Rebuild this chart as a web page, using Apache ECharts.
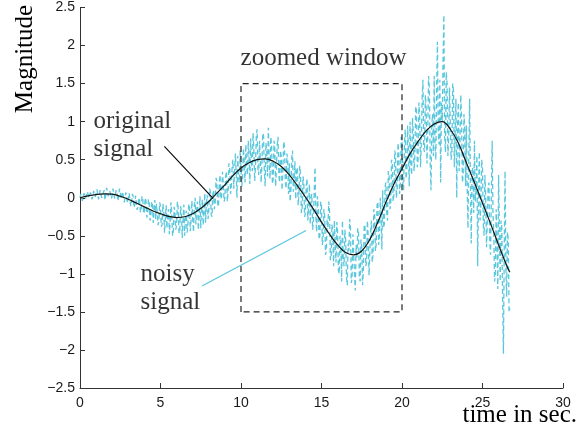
<!DOCTYPE html>
<html>
<head>
<meta charset="utf-8">
<script src="https://cdn.jsdelivr.net/npm/echarts@6/dist/echarts.min.js"></script>
<style>
html,body{margin:0;padding:0;background:#fff;}
#chart{width:587px;height:436px;}
</style>
</head>
<body>
<div id="chart"></div>
<script>
// ---- data ----
const xTicks = { min: 0, max: 30, interval: 5 };
const yTicks = { min: -2.5, max: 2.5, interval: 0.5 };

const origTime = [0,0.5,1,1.5,2,2.5,3,3.5,4,4.5,5,5.5,6,6.5,7,7.5,8,8.5,9,9.5,10,10.5,11,11.5,12,12.5,13,13.5,14,14.5,15,15.5,16,16.5,17,17.5,18,18.5,19,19.5,20,20.5,21,21.5,22,22.5,23,23.5,24,24.5,25,25.5,26,26.5,26.7];
const origValue = [0,0.025,0.042,0.05,0.047,0.02,-0.02,-0.07,-0.12,-0.17,-0.21,-0.245,-0.26,-0.25,-0.21,-0.14,-0.05,0.06,0.17,0.29,0.39,0.46,0.5,0.51,0.48,0.41,0.3,0.16,0.01,-0.15,-0.32,-0.48,-0.62,-0.72,-0.75,-0.7,-0.55,-0.32,-0.06,0.18,0.38,0.58,0.74,0.88,0.97,1.0,0.9,0.72,0.46,0.2,-0.07,-0.34,-0.62,-0.89,-0.98];

const noisyStep = 0.05; // seconds between noisy samples, starting at t = 0
const noisyValue = [
 0.00, 0.05, 0.03,-0.04,-0.02, 0.06, 0.04,-0.01, 0.01, 0.08, 0.05, 0.00,-0.01, 0.07, 0.06,-0.02, 0.02, 0.09, 0.07, 0.01,
 0.01, 0.11, 0.09,-0.02, 0.03, 0.10, 0.08, 0.00,-0.01, 0.07, 0.10,-0.03, 0.04, 0.13, 0.12, 0.02, 0.00, 0.09, 0.08,-0.01,
 0.03, 0.12, 0.11,-0.01,-0.02, 0.10, 0.07,-0.04, 0.01, 0.12, 0.09,-0.02,-0.03, 0.08, 0.06,-0.06,-0.04, 0.07, 0.05,-0.07,
-0.06, 0.06, 0.04,-0.11,-0.08, 0.05, 0.02,-0.13,-0.10, 0.03, 0.01,-0.16,-0.12, 0.00,-0.03,-0.19,-0.15, 0.02,-0.02,-0.21,
-0.18, 0.00,-0.04,-0.26,-0.20,-0.02,-0.07,-0.30,-0.24,-0.05,-0.09,-0.33,-0.13,-0.03,-0.28,-0.08,-0.10,-0.36,-0.30,-0.06,
-0.12,-0.38,-0.35,-0.08,-0.18,-0.46,-0.27,-0.10,-0.40,-0.20,-0.15,-0.48,-0.32,-0.06,-0.22,-0.50,-0.44,-0.12,-0.19,-0.42,
-0.36,-0.05,-0.14,-0.47,-0.42,-0.11,-0.20,-0.53,-0.31,-0.09,-0.50,-0.25,-0.17,-0.46,-0.38,-0.08,-0.12,-0.44,-0.30,-0.04,
-0.28,-0.45,-0.10, 0.00,-0.35,-0.12,-0.05,-0.42,-0.24, 0.02,-0.40,-0.15,-0.02,-0.36,-0.20, 0.06,-0.33,-0.08, 0.04,-0.28,
-0.18, 0.12, 0.08,-0.22,-0.25, 0.05, 0.10,-0.15,-0.06, 0.26, 0.22,-0.08,-0.12, 0.18, 0.30,-0.02, 0.02, 0.34, 0.18,-0.05,
 0.00, 0.28, 0.35,-0.05, 0.08, 0.45, 0.40, 0.05, 0.15, 0.42, 0.50, 0.12, 0.10, 0.58, 0.32, 0.00, 0.55, 0.25, 0.20, 0.62,
 0.60, 0.15, 0.25, 0.65, 0.48, 0.20, 0.70, 0.40, 0.30, 0.75, 0.56, 0.18, 0.78, 0.45, 0.35, 0.85, 0.62, 0.22, 0.42, 0.80,
 0.90, 0.38, 0.30, 0.75, 0.50, 0.20, 0.45, 0.85, 0.82, 0.35, 0.15, 0.72, 0.60, 0.28, 0.92, 0.48, 0.25, 0.80, 0.70, 0.18,
 0.25, 0.75, 0.66, 0.15, 0.40, 0.70, 0.80, 0.30, 0.20, 0.62, 0.55, 0.10, 0.35, 0.74, 0.68, 0.22, 0.12, 0.58, 0.50, 0.05,
 0.45,-0.05, 0.10, 0.52, 0.62, 0.08, 0.20, 0.48,-0.02, 0.35, 0.40,-0.10, 0.05, 0.42, 0.30,-0.20,-0.15, 0.28, 0.20,-0.25,
-0.20, 0.15, 0.25,-0.30,-0.12, 0.18,-0.35, 0.00, 0.05,-0.42,-0.30, 0.10, 0.40,-0.25,-0.45, 0.02,-0.15,-0.55,-0.50,-0.05,
-0.10,-0.62,-0.55,-0.15,-0.25,-0.75,-0.70,-0.28,-0.40,-0.05,-0.18,-0.82,-0.78,-0.35,-0.45,-0.90,-0.30,-0.60,-0.85,-0.32,
-0.45,-0.95,-1.00,-0.50,-0.60,-1.10,-0.30,-0.80,-0.90,-0.42,-0.55,-1.05,-1.15,-0.60,-0.70,-0.28,-0.40,-1.12,-1.05,-0.48,
-0.50,-1.00,-1.22,-0.62,-0.80,-0.40,-0.45,-1.05,-1.10,-0.55,-0.65,-1.15,-0.95,-0.38,-0.35,-0.90,-0.85,-0.30,-0.50,-1.02,
-1.00,-0.45,-0.30,-0.85,-0.75,-0.15,-0.20,-0.70,-0.60,-0.10,-0.05,-0.62,-0.50, 0.00,-0.25,-0.68, 0.10,-0.40,-0.35, 0.15,
 0.20,-0.20,-0.30, 0.35, 0.30,-0.15,-0.10, 0.50, 0.45,-0.05, 0.05, 0.62, 0.55, 0.00, 0.10, 0.72, 0.60, 0.05, 0.20, 0.80,
 0.75, 0.20, 0.10, 0.70, 0.90, 0.25, 0.35, 0.95, 0.60, 0.15, 1.00, 0.45, 0.30, 1.05, 0.85, 0.35, 0.55, 1.20, 1.15, 0.40,
 0.50, 1.25, 1.05, 0.40, 0.70, 1.30, 1.55, 0.65, 0.60, 1.35, 1.20, 0.45, 0.85, 1.60, 1.45, 0.50, 0.10, 0.95, 1.10, 0.55,
 1.60, 0.70, 0.50, 1.40, 2.05, 0.90, 0.70, 1.55, 0.20, 1.25, 1.00, 1.80, 2.40, 0.80, 0.60, 1.65, 1.50, 0.55, 0.80, 1.45,
 1.45, 0.50, 0.60, 1.50, 1.40, 0.40, 0.85, 1.30, 0.00, 0.95, 1.25, 0.35, 0.70, 1.35, 1.05, 0.20, 0.30, 1.10, 0.90, 0.15,
 0.95, 0.10,-0.40, 0.60, 1.30, 0.20,-0.60, 0.35, 0.40,-0.20, 0.75,-0.05, 0.10, 0.55,-0.90, 0.00, 0.60,-0.30,-0.10, 0.50,
 0.40,-0.35,-0.50, 0.30, 0.00,-0.65,-0.30, 0.15, 0.20,-0.55,-0.75, 0.05, 0.75,-0.20,-0.45,-1.10,-1.00,-0.15,-0.60,-1.20,
 0.30,-0.50,-1.10,-0.30,-0.40,-1.35,-2.05,-0.70, 0.35,-0.90,-1.30,-0.45,-0.55,-1.50,-1.45
];

const windowX = [10, 20];
const windowY = [-1.5, 1.5];

const originalPointer = [[5.24, 0.675], [8.28, -0.01]];
const noisyPointer = [[7.58, -1.16], [14.04, -0.43]];

const annotations = [
  { name: 'zoomed window', value: [9.94, 1.83] },
  { name: 'original\nsignal', value: [0.81, 0.82] },
  { name: 'noisy\nsignal', value: [3.73, -1.19] }
];

const xTitle = 'time in sec.';
const yTitle = 'Magnitude';

// ---- build ----
const cyan = '#5bc7dc';
const serif = '"Liberation Serif", "Times New Roman", serif';
const sans = '"Liberation Sans", Arial, Helvetica, sans-serif';

const origData = origTime.map((t, i) => [t, origValue[i]]);
const noisyData = noisyValue.map((v, i) => [Math.round(i * noisyStep * 100) / 100, v]);
const rectData = [
  [windowX[0], windowY[0]], [windowX[0], windowY[1]],
  [windowX[1], windowY[1]], [windowX[1], windowY[0]], [windowX[0], windowY[0]]
];

const axisCommon = {
  type: 'value',
  axisLine: { show: true, onZero: false, lineStyle: { color: '#333', width: 1 } },
  axisTick: { show: true, inside: true, length: 5, lineStyle: { color: '#333', width: 1 } },
  splitLine: { show: false },
  axisLabel: { color: '#1a1a1a', fontFamily: sans, fontSize: 14 }
};

const chart = echarts.init(document.getElementById('chart'), null, { renderer: 'canvas' });
chart.setOption({
  animation: false,
  backgroundColor: '#fff',
  grid: { left: 80, right: 24, top: 7.5, bottom: 48, containLabel: false },
  xAxis: Object.assign({}, axisCommon, {
    min: xTicks.min, max: xTicks.max, interval: xTicks.interval,
    axisLabel: Object.assign({}, axisCommon.axisLabel, { margin: 8 })
  }),
  yAxis: Object.assign({}, axisCommon, {
    min: yTicks.min, max: yTicks.max, interval: yTicks.interval,
    axisLabel: Object.assign({}, axisCommon.axisLabel, {
      margin: 5,
      formatter: v => String(v).replace('-', '\u2212')
    })
  }),
  graphic: [
    { type: 'text', right: 10, top: 403,
      style: { text: xTitle, font: '25px ' + serif, fill: '#000' } },
    { type: 'text', x: 25, y: 59, rotation: Math.PI / 2,
      style: { text: yTitle, font: '25px ' + serif, fill: '#000', align: 'center', verticalAlign: 'middle' } }
  ],
  series: [
    { name: 'noisy', type: 'line', data: noisyData, symbol: 'none', z: 2,
      lineStyle: { color: cyan, width: 1.3, type: [5, 3] } },
    { name: 'original', type: 'line', data: origData, symbol: 'none', smooth: 0.4, z: 3,
      lineStyle: { color: '#111', width: 1.2 } },
    { name: 'window', type: 'line', data: rectData, symbol: 'none', z: 4,
      lineStyle: { color: '#222', width: 1.2, type: [6, 4] } },
    { name: 'origPointer', type: 'line', data: originalPointer, symbol: 'none', z: 4,
      lineStyle: { color: '#000', width: 1.1 } },
    { name: 'noisyPointer', type: 'line', data: noisyPointer, symbol: 'none', z: 4,
      lineStyle: { color: cyan, width: 1.3 } },
    { name: 'labels', type: 'scatter', data: annotations, symbolSize: 1, z: 5,
      itemStyle: { color: 'rgba(0,0,0,0)' },
      label: { show: true, position: 'right', distance: 0, formatter: p => p.name,
        fontFamily: serif, fontSize: 25, lineHeight: 28.5, color: '#000', align: 'left' } }
  ]
});
</script>
</body>
</html>
